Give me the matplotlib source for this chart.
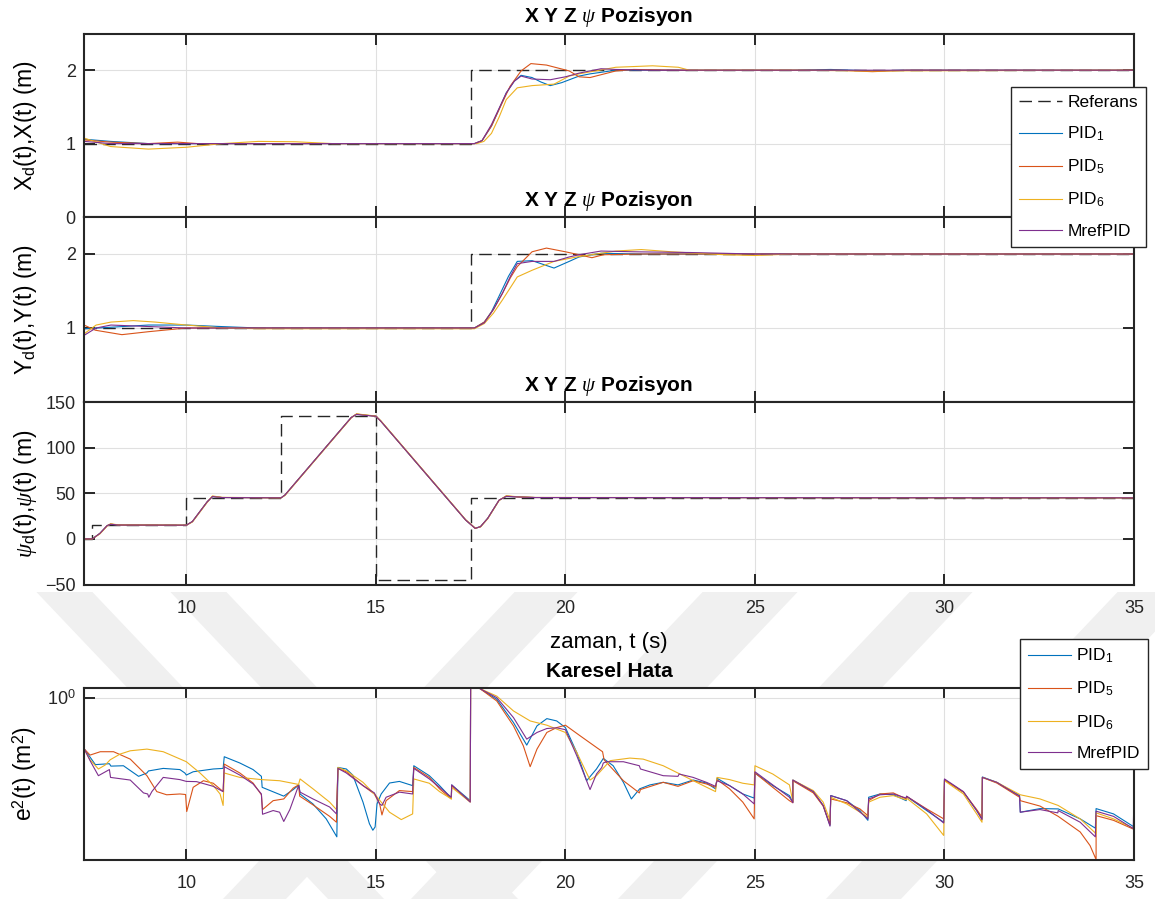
import matplotlib
matplotlib.use('Agg')
import matplotlib.pyplot as plt
from matplotlib.patches import Polygon
from matplotlib.ticker import FixedLocator, NullLocator, FixedFormatter

plt.rcParams['font.family'] = ['Liberation Sans', 'DejaVu Sans']
plt.rcParams['mathtext.fontset'] = 'custom'
plt.rcParams['mathtext.rm'] = 'Liberation Sans'
plt.rcParams['mathtext.it'] = 'Liberation Serif:italic'
plt.rcParams['mathtext.bf'] = 'Liberation Sans:bold'

# ---- reference signals ----
ref_pos_t = [7.3, 17.5, 17.5, 35]
ref_pos_v = [1, 1, 2, 2]
ref_psi_t = [7.3, 7.5, 7.5, 10, 10, 12.5, 12.5, 15, 15, 17.5, 17.5, 35]
ref_psi_v = [0, 0, 15, 15, 45, 45, 135, 135, -45, -45, 45, 45]

# ---- X position ----
x_pid1_t = [7.3, 8.0, 9.0, 10, 12, 14, 17.6, 17.8, 18.05, 18.25, 18.44, 18.65, 18.83, 19.12, 19.35, 19.6, 19.9, 20.36, 20.65, 21.33, 23, 26, 27, 28.1, 29, 35]
x_pid1_v = [1.06, 1.03, 1.0, 1.0, 1.0, 1.0, 1.0, 1.04, 1.24, 1.47, 1.69, 1.85, 1.93, 1.9, 1.84, 1.79, 1.83, 1.92, 1.95, 2.0, 2.0, 2.0, 2.01, 1.99, 2.0, 2.0]
x_pid5_t = [7.3, 8.0, 9.0, 9.77, 10.3, 12, 14, 17.6, 17.8, 18.05, 18.3, 18.54, 18.83, 19.09, 19.5, 20.1, 20.36, 20.65, 21.33, 21.8, 23, 27.2, 28.1, 29, 35]
x_pid5_v = [1.05, 1.02, 1.0, 1.02, 1.0, 1.0, 1.0, 1.0, 1.04, 1.24, 1.52, 1.78, 1.99, 2.09, 2.07, 1.99, 1.91, 1.9, 1.99, 2.01, 2.0, 2.0, 1.98, 2.0, 2.0]
x_pid6_t = [7.3, 8.0, 9.0, 10, 10.94, 11.9, 12.88, 13.86, 17.66, 17.85, 18.05, 18.25, 18.44, 18.73, 19.12, 19.7, 20.1, 20.36, 21.33, 22.3, 22.98, 23.27, 26, 28, 35]
x_pid6_v = [1.075, 0.96, 0.925, 0.95, 1.0, 1.03, 1.025, 1.0, 1.0, 1.03, 1.14, 1.36, 1.6, 1.76, 1.79, 1.81, 1.92, 1.95, 2.04, 2.06, 2.04, 2.0, 2.0, 1.99, 2.0]
x_mref_t = [7.3, 8.0, 10, 14, 17.6, 17.8, 18.05, 18.25, 18.44, 18.65, 18.83, 19.12, 19.6, 20.0, 20.36, 20.94, 21.33, 22.3, 26, 35]
x_mref_v = [1.03, 1.0, 1.0, 1.0, 1.0, 1.04, 1.26, 1.48, 1.69, 1.85, 1.92, 1.88, 1.87, 1.91, 1.96, 2.02, 2.01, 2.0, 2.0, 2.0]

# ---- Y position ----
y_pid1_t = [7.3, 8.0, 9.0, 10, 10.9, 11.9, 17.6, 17.86, 18.05, 18.24, 18.5, 18.73, 19.12, 19.7, 20.1, 20.36, 20.94, 22, 35]
y_pid1_v = [0.99, 1.01, 1.04, 1.04, 1.02, 1.0, 1.0, 1.08, 1.22, 1.42, 1.7, 1.9, 1.91, 1.81, 1.9, 1.96, 2.01, 2.0, 2.0]
y_pid5_t = [7.3, 7.6, 8.3, 9.0, 10, 17.6, 17.86, 18.1, 18.34, 18.55, 18.73, 19.12, 19.5, 20.0, 20.36, 20.7, 21.0, 22, 35]
y_pid5_v = [1.04, 0.97, 0.91, 0.95, 1.0, 1.0, 1.08, 1.25, 1.47, 1.68, 1.83, 2.03, 2.08, 2.03, 1.99, 1.95, 1.99, 2.0, 2.0]
y_pid6_t = [7.3, 7.62, 8.01, 8.6, 9.18, 10, 10.94, 11.9, 17.6, 17.86, 18.1, 18.34, 18.73, 19.12, 19.7, 20.3, 21.33, 22.0, 22.8, 24.2, 25, 26, 35]
y_pid6_v = [0.92, 1.04, 1.08, 1.10, 1.08, 1.04, 1.0, 0.99, 0.99, 1.06, 1.2, 1.38, 1.69, 1.78, 1.9, 1.96, 2.04, 2.06, 2.03, 1.99, 1.98, 2.0, 2.0]
y_mref_t = [7.3, 7.62, 8.01, 9.0, 10, 17.6, 17.86, 18.1, 18.34, 18.55, 18.73, 19.12, 19.7, 20.1, 20.36, 20.94, 21.8, 23.3, 25, 35]
y_mref_v = [0.9, 1.0, 1.04, 1.02, 1.0, 1.0, 1.07, 1.25, 1.47, 1.7, 1.87, 1.9, 1.9, 1.96, 1.99, 2.04, 2.03, 2.02, 2.0, 2.0]

# ---- yaw angle ----
psi_t = [7.3, 7.52, 7.72, 7.91, 8.0, 8.2, 10.0, 10.16, 10.55, 10.69, 10.94, 12.5, 12.6, 14.35, 14.49, 14.74, 15.0, 15.13, 17.37, 17.62, 17.76, 17.95, 18.25, 18.44, 18.73, 19.2, 35]
psi_pid1 = [0, 0, 6, 14.5, 16, 15.2, 15, 19, 40.6, 46.4, 45.3, 45, 48, 133, 136.6, 135.5, 134.4, 129, 20.6, 11.6, 13.4, 22.5, 42.4, 46.7, 46, 45.3, 45]
psi_pid5 = [0, 0, 6, 14.5, 16.2, 15.2, 15, 19, 40.6, 46.6, 45.3, 45, 48, 133, 136.8, 135.5, 134.4, 129, 20.6, 11.4, 13.4, 22.5, 42.4, 46.9, 46, 45.3, 45]
psi_pid6 = [0, 0, 5.5, 14, 16.5, 15.4, 15, 18.5, 40, 47, 45.5, 45, 47.5, 132.5, 137, 135.8, 134.6, 129.5, 21, 12, 13, 22, 42, 47.2, 46.2, 45.4, 45]
psi_mref = [0, 0, 6, 14.5, 16, 15.2, 15, 19, 40.6, 46.4, 45.3, 45, 48, 133, 136.4, 135.3, 134.4, 129, 20.6, 11.6, 13.4, 22.5, 42.4, 46.6, 46, 45.3, 45]

# ---- squared error ----
e_pid1_t = [7.31, 7.60, 7.97, 8.01, 8.34, 8.74, 8.96, 9.0, 9.39, 9.83, 9.96, 10.0, 10.18, 10.71, 10.97, 11.0, 11.41, 11.76, 11.98, 12.0, 12.57, 12.82, 12.97, 13.0, 13.34, 13.69, 13.97,
            14.0, 14.22, 14.39, 14.66, 14.83, 14.92, 14.98, 15.03, 15.14, 15.36, 15.62, 15.97, 16.0, 16.41, 16.68, 16.99, 17.0, 17.49, 17.5, 17.68,
            17.75, 18.19, 18.63, 18.98, 19.25, 19.51, 19.77, 20.0, 20.3, 20.56, 20.82, 21.0, 21.26, 21.53, 21.74, 21.96, 22.23, 22.58, 22.97, 23.37, 23.72, 23.96,
            24.0, 24.33, 24.68, 24.98, 25.0, 25.47, 25.91, 26.0, 26.0, 26.54, 26.8, 26.98, 27.0, 27.42, 27.77, 27.98, 28.0, 28.3, 28.65, 28.99, 29.0, 29.53, 29.98,
            30.0, 30.5, 30.85, 30.99, 31.0, 31.38, 31.82, 31.98, 32.0, 32.52, 33.0, 33.58, 33.98, 34.0, 34.46, 35.0]
e_pid1_v = [0.523, 0.430, 0.435, 0.422, 0.424, 0.371, 0.387, 0.397, 0.410, 0.404, 0.387, 0.377, 0.393, 0.407, 0.410, 0.475, 0.439, 0.404, 0.371, 0.323, 0.289, 0.314, 0.333, 0.297, 0.262, 0.217, 0.173,
            0.415, 0.407, 0.377, 0.268, 0.204, 0.188, 0.196, 0.262, 0.297, 0.341, 0.348, 0.330, 0.424, 0.374, 0.330, 0.282, 0.333, 0.273, 1.25, 1.2,
            1.12, 0.979, 0.731, 0.550, 0.701, 0.768, 0.746, 0.686, 0.501, 0.351, 0.407, 0.465, 0.424, 0.344, 0.279, 0.317, 0.333, 0.344, 0.333, 0.354, 0.341, 0.317,
            0.362, 0.330, 0.297, 0.282, 0.387, 0.330, 0.291, 0.268, 0.354, 0.306, 0.257, 0.200, 0.291, 0.273, 0.241, 0.213, 0.285, 0.297, 0.294, 0.273, 0.288, 0.241, 0.208,
            0.356, 0.304, 0.241, 0.217, 0.368, 0.344, 0.304, 0.291, 0.236, 0.247, 0.246, 0.217, 0.193, 0.247, 0.231, 0.196]

e_pid5_t = [7.31, 7.46, 7.73, 8.08, 8.52, 8.96, 9.22, 9.48, 9.83, 9.98, 10.01, 10.18, 10.45, 10.71, 10.97, 11.0, 11.41, 11.76, 11.98, 12.01, 12.29, 12.57, 12.82, 12.96, 12.99, 13.34, 13.78, 13.96,
            14.0, 14.22, 14.66, 14.96, 15.1, 15.16, 15.27, 15.62, 15.97, 16.0, 16.41, 16.68, 16.99, 17.0, 17.49, 17.5, 17.68,
            17.75, 18.19, 18.63, 18.89, 19.07, 19.25, 19.51, 19.77, 20.0, 20.39, 20.82, 20.98, 21.02, 21.53, 21.95, 21.98, 22.58, 22.97, 23.37, 23.72, 23.96,
            24.0, 24.33, 24.68, 24.98, 25.0, 25.47, 25.91, 26.0, 26.0, 26.54, 26.8, 26.98, 27.0, 27.42, 27.77, 27.98, 28.0, 28.3, 28.65, 28.99, 29.0, 29.53, 29.98,
            30.0, 30.5, 30.85, 30.99, 31.0, 31.38, 31.98, 32.0, 32.52, 33.0, 33.58, 33.84, 34.0, 34.0, 34.46, 35.0]
e_pid5_v = [0.523, 0.485, 0.506, 0.506, 0.461, 0.374, 0.306, 0.294, 0.297, 0.295, 0.238, 0.323, 0.351, 0.340, 0.306, 0.433, 0.387, 0.341, 0.294, 0.244, 0.273, 0.279, 0.320, 0.333, 0.289, 0.259, 0.224, 0.208,
            0.410, 0.393, 0.330, 0.297, 0.262, 0.228, 0.273, 0.310, 0.306, 0.415, 0.366, 0.317, 0.279, 0.330, 0.270, 1.25, 1.2,
            1.12, 0.959, 0.701, 0.545, 0.419, 0.523, 0.645, 0.686, 0.707, 0.618, 0.534, 0.506, 0.457, 0.351, 0.301, 0.314, 0.344, 0.327, 0.351, 0.337, 0.323,
            0.356, 0.317, 0.268, 0.217, 0.387, 0.323, 0.273, 0.266, 0.351, 0.301, 0.255, 0.202, 0.279, 0.266, 0.246, 0.226, 0.273, 0.297, 0.301, 0.279, 0.288, 0.246, 0.217,
            0.354, 0.304, 0.244, 0.222, 0.366, 0.341, 0.285, 0.273, 0.255, 0.224, 0.184, 0.155, 0.130, 0.226, 0.213, 0.190]

e_pid6_t = [7.31, 7.46, 7.68, 7.86, 7.99, 8.25, 8.52, 8.96, 9.39, 10.0, 10.36, 10.71, 10.89, 10.97, 11.0, 11.41, 11.98, 12.46, 12.96, 13.0, 13.34, 13.78, 13.96,
            14.0, 14.22, 14.66, 15.0, 15.36, 15.67, 15.97, 16.0, 16.41, 16.68, 16.99, 17.0, 17.49, 17.5, 17.68,
            17.75, 18.19, 18.63, 19.07, 19.51, 20.0, 20.3, 20.65, 20.82, 21.18, 21.7, 22.05, 22.58, 23.02, 23.46, 23.96,
            24.0, 24.33, 24.68, 24.98, 25.0, 25.47, 25.91, 26.0, 26.0, 26.54, 26.8, 26.98, 27.0, 27.42, 27.98, 28.0, 28.3, 28.65, 28.99, 29.0, 29.53, 29.98,
            30.0, 30.5, 30.85, 30.99, 31.0, 31.38, 32.0, 32.52, 33.0, 33.58, 34.0, 34.0, 34.46, 35.0]
e_pid6_v = [0.519, 0.457, 0.407, 0.428, 0.457, 0.491, 0.512, 0.523, 0.506, 0.446, 0.387, 0.330, 0.297, 0.257, 0.387, 0.366, 0.356, 0.351, 0.335, 0.359, 0.317, 0.268, 0.244,
            0.415, 0.398, 0.344, 0.291, 0.236, 0.215, 0.231, 0.359, 0.340, 0.306, 0.279, 0.323, 0.268, 1.25, 1.2,
            1.12, 1.02, 0.846, 0.746, 0.707, 0.645, 0.501, 0.354, 0.374, 0.452, 0.467, 0.461, 0.424, 0.382, 0.344, 0.306,
            0.366, 0.356, 0.340, 0.333, 0.424, 0.382, 0.333, 0.270, 0.354, 0.310, 0.268, 0.213, 0.285, 0.262, 0.222, 0.268, 0.285, 0.291, 0.276, 0.282, 0.231, 0.176,
            0.351, 0.297, 0.231, 0.208, 0.366, 0.344, 0.294, 0.279, 0.257, 0.217, 0.180, 0.234, 0.217, 0.192]

e_mref_t = [7.31, 7.46, 7.68, 7.97, 8.0, 8.52, 8.87, 8.98, 9.01, 9.09, 9.39, 9.83, 10.0, 10.27, 10.71, 10.97, 11.0, 11.41, 11.76, 11.98, 12.01, 12.29, 12.46, 12.57, 12.73, 12.96, 13.0, 13.34, 13.78, 13.96,
            14.0, 14.22, 14.66, 14.96, 15.1, 15.16, 15.27, 15.62, 15.97, 16.0, 16.41, 16.68, 16.99, 17.0, 17.49, 17.5, 17.68,
            17.75, 18.19, 18.63, 18.98, 19.25, 19.51, 19.77, 20.0, 20.3, 20.65, 20.82, 20.96, 21.0, 21.09, 21.53, 21.95, 21.98, 22.58, 22.97, 23.0, 23.37, 23.72, 23.96,
            24.0, 24.33, 24.68, 24.98, 25.0, 25.47, 25.91, 26.0, 26.0, 26.54, 26.8, 26.98, 27.0, 27.42, 27.98, 28.0, 28.3, 28.65, 28.99, 29.0, 29.53, 29.98,
            30.0, 30.5, 30.85, 30.99, 31.0, 31.38, 31.98, 32.0, 32.52, 32.99, 33.0, 33.58, 33.98, 34.0, 34.46, 34.98, 35.0]
e_mref_v = [0.523, 0.452, 0.374, 0.404, 0.366, 0.354, 0.301, 0.297, 0.285, 0.306, 0.366, 0.356, 0.348, 0.347, 0.327, 0.306, 0.419, 0.377, 0.337, 0.297, 0.230, 0.241, 0.236, 0.210, 0.244, 0.330, 0.304, 0.279, 0.252, 0.231,
            0.410, 0.387, 0.330, 0.301, 0.262, 0.257, 0.285, 0.304, 0.297, 0.410, 0.359, 0.323, 0.285, 0.333, 0.268, 1.25, 1.2,
            1.12, 1.0, 0.778, 0.593, 0.645, 0.678, 0.684, 0.668, 0.481, 0.314, 0.382, 0.415, 0.439, 0.446, 0.446, 0.424, 0.407, 0.374, 0.371, 0.382, 0.366, 0.344, 0.327,
            0.351, 0.330, 0.297, 0.262, 0.393, 0.333, 0.285, 0.266, 0.354, 0.306, 0.257, 0.198, 0.291, 0.273, 0.217, 0.279, 0.294, 0.297, 0.282, 0.289, 0.244, 0.206,
            0.359, 0.306, 0.241, 0.215, 0.366, 0.344, 0.289, 0.236, 0.244, 0.234, 0.241, 0.208, 0.173, 0.239, 0.224, 0.192, 0.289]

names = ['PID$_1$', 'PID$_5$', 'PID$_6$', 'MrefPID']
colors = ['#0072BD', '#D95319', '#EDB120', '#7E2F8E']
ref_color = '#262626'
axis_color = '#262626'
W, H = 1155, 899

fig = plt.figure(figsize=(W / 100, H / 100), dpi=100)

# faint diagonal watermark stripes behind the axes (pixel coords -> figure fraction)
stripes = [(44, 100, 1), (178, 234, 1), (507, 570, -1), (695, 790, -1), (902, 965, -1), (1110, 1185, -1)]
slope = 0.95
for x0, x1, d in stripes:
    ya, yb = 592, 899
    pts = [(x0 + d * slope * (ya - 600), ya), (x1 + d * slope * (ya - 600), ya),
           (x1 + d * slope * (yb - 600), yb), (x0 + d * slope * (yb - 600), yb)]
    fig.add_artist(Polygon([(px / W, 1 - py / H) for px, py in pts], closed=True,
                           facecolor='#f0f0f0', edgecolor='none', zorder=-5,
                           transform=fig.transFigure))


def ax_rect(top, bottom, left=84, right=1134):
    return [left / W, 1 - bottom / H, (right - left) / W, (bottom - top) / H]


def style(ax):
    ax.set_xlim(7.3, 35)
    ax.set_xticks([10, 15, 20, 25, 30, 35])
    ax.grid(True, color='#e0e0e0', linewidth=0.8)
    ax.set_axisbelow(True)
    for s in ax.spines.values():
        s.set_linewidth(1.5)
        s.set_color(axis_color)
    ax.tick_params(direction='in', length=8, width=1.4, top=True, right=True,
                   colors=axis_color, labelcolor='#262626', labelsize=13)
    ax.tick_params(axis='x', pad=11)
    ax.tick_params(axis='y', pad=6)


ax1 = fig.add_axes(ax_rect(33.5, 217))
ax2 = fig.add_axes(ax_rect(217, 402))
ax3 = fig.add_axes(ax_rect(402, 584.5))
ax4 = fig.add_axes(ax_rect(688, 859.5))

title_xyz = r'X Y Z $\psi$ Pozisyon'
dash = (9, 4.5)
lab_fs = 16.5

# X position
ax1.plot(ref_pos_t, ref_pos_v, color=ref_color, lw=1, dashes=dash, label='Referans')
for t, v, c, n in zip([x_pid1_t, x_pid5_t, x_pid6_t, x_mref_t], [x_pid1_v, x_pid5_v, x_pid6_v, x_mref_v], colors, names):
    ax1.plot(t, v, color=c, lw=0.8, label=n)
ax1.set_ylim(0, 2.5)
ax1.set_yticks([0, 1, 2])
ax1.set_ylabel('X$_\\mathrm{d}$(t),X(t) (m)', fontsize=lab_fs)

# Y position
ax2.plot(ref_pos_t, ref_pos_v, color=ref_color, lw=1, dashes=dash)
for t, v, c in zip([y_pid1_t, y_pid5_t, y_pid6_t, y_mref_t], [y_pid1_v, y_pid5_v, y_pid6_v, y_mref_v], colors):
    ax2.plot(t, v, color=c, lw=0.8)
ax2.set_ylim(0, 2.5)
ax2.set_yticks([0, 1, 2])
ax2.set_yticklabels(['', '1', '2'])
ax2.set_ylabel('Y$_\\mathrm{d}$(t),Y(t) (m)', fontsize=lab_fs)

# yaw
ax3.plot(ref_psi_t, ref_psi_v, color=ref_color, lw=1, dashes=dash)
for v, c in zip([psi_pid1, psi_pid5, psi_pid6, psi_mref], colors):
    ax3.plot(psi_t, v, color=c, lw=0.8)
ax3.set_ylim(-50, 150)
ax3.set_yticks([-50, 0, 50, 100, 150])
ax3.set_ylabel(r'$\psi_\mathrm{d}$(t),$\psi$(t) (m)', fontsize=lab_fs)
ax3.set_xlabel('zaman, t (s)', fontsize=16)

# squared error
for t, v, c, n in zip([e_pid1_t, e_pid5_t, e_pid6_t, e_mref_t], [e_pid1_v, e_pid5_v, e_pid6_v, e_mref_v], colors, names):
    ax4.plot(t, v, color=c, lw=0.8, label=n)
ax4.set_yscale('log')
ax4.set_ylim(0.13, 1.13)
ax4.yaxis.set_major_locator(FixedLocator([1.0]))
ax4.yaxis.set_major_formatter(FixedFormatter(['$10^{0}$']))
ax4.yaxis.set_minor_locator(NullLocator())
ax4.set_ylabel('e$^2$(t) (m$^2$)', fontsize=lab_fs)

for ax in (ax1, ax2, ax3, ax4):
    style(ax)
for ax in (ax1, ax2):
    ax.tick_params(axis='x', labelbottom=False)
for ax in (ax1, ax2, ax3):
    ax.set_title(title_xyz, fontweight='bold', fontsize=15, pad=8)
ax4.set_title('Karesel Hata', fontweight='bold', fontsize=15, pad=8)
for ax in (ax1, ax2, ax3, ax4):
    ax.yaxis.set_label_coords(-0.043, 0.5)
ax3.xaxis.set_label_coords(0.5, -0.262)
ax3.xaxis.label.set_verticalalignment('top')

leg_kw = dict(fontsize=12.5, frameon=True, fancybox=False, framealpha=1, edgecolor=axis_color,
              handlelength=2.5, handletextpad=0.3, borderpad=0.45, labelspacing=0.85, borderaxespad=0)
leg1 = fig.legend(*ax1.get_legend_handles_labels(), loc='upper left',
                  bbox_to_anchor=(1011 / W, 1 - 87 / H), **leg_kw)
leg1.get_frame().set_linewidth(1.0)
leg2 = ax4.legend(loc='upper left', bbox_to_anchor=(1020 / W, 1 - 639 / H),
                  bbox_transform=fig.transFigure, **leg_kw)
leg2.get_frame().set_linewidth(1.0)

fig.savefig('out.png', dpi=100, facecolor='white')
